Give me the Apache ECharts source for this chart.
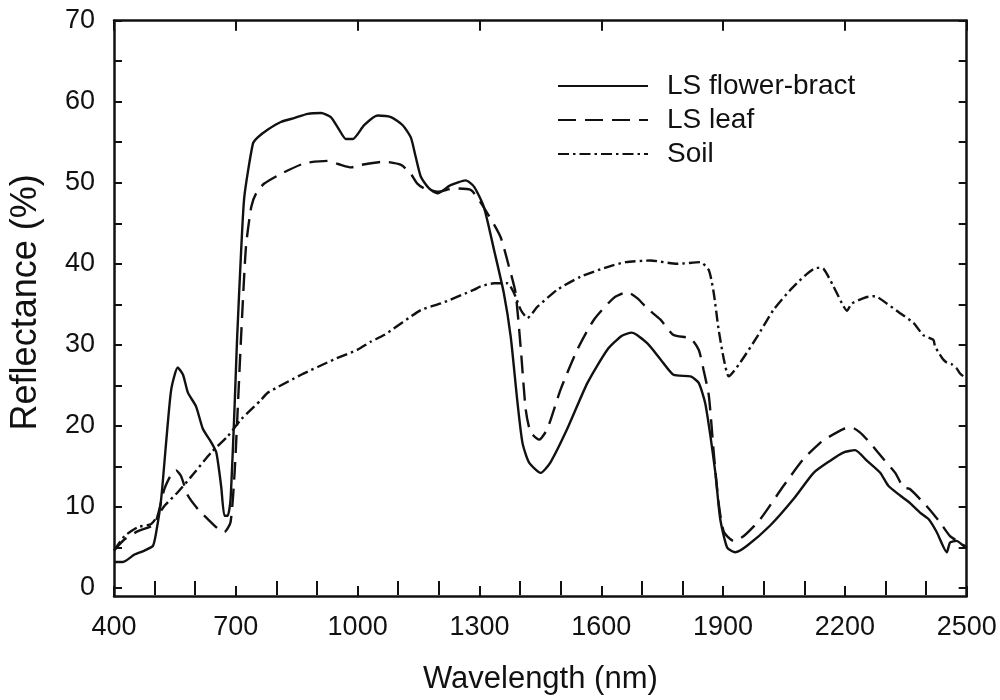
<!DOCTYPE html>
<html>
<head>
<meta charset="utf-8">
<script src="https://cdn.jsdelivr.net/npm/echarts@6/dist/echarts.min.js"></script>
<style>
html,body{margin:0;padding:0;background:#fff;}
#c{width:1000px;height:700px;}
</style>
</head>
<body>
<div id="c"></div>
<script>
// ---- data ----
const seriesNames = ['LS flower-bract', 'LS leaf', 'Soil'];

const flowerNm = [400,422,450,475,496,504,516,529,541,557,570,582,602,619,639,652,664,672,680,687,697,703,713,721,742,754,780,811,845,877,910,934,955,971,988,1016,1049,1082,1111,1131,1143,1156,1176,1197,1229,1266,1287,1311,1336,1360,1377,1393,1406,1422,1451,1475,1516,1566,1615,1650,1675,1713,1746,1778,1820,1840,1856,1869,1881,1893,1910,1930,1959,2016,2074,2123,2164,2196,2225,2254,2287,2307,2336,2360,2385,2406,2426,2451,2459,2475,2492,2500];
const flowerVal = [3.2,3.2,4.1,4.6,5.2,6.9,10.9,18.3,24.5,27.2,26.3,24.1,22.4,19.6,18.0,16.7,12.5,8.9,8.9,10.9,22.4,30.6,41.5,48.3,54.8,55.6,56.6,57.5,58.0,58.5,58.6,58.1,56.5,55.4,55.4,57.1,58.3,58.1,57.1,55.6,53.2,50.7,49.3,48.7,49.7,50.3,49.5,47.0,41.7,36.4,31.0,23.2,17.9,15.5,14.2,15.5,19.6,25.3,29.4,31.1,31.5,30.2,28.2,26.3,26.1,25.3,22.8,18.7,14.2,8.5,5.0,4.4,5.2,7.7,11.0,14.2,15.7,16.7,17.0,15.7,14.2,12.6,11.4,10.5,9.3,8.5,6.9,4.4,5.6,5.8,5.2,4.9];

const leafNm = [400,426,459,500,524,541,553,565,582,607,631,656,672,687,697,705,713,725,738,750,770,811,869,926,959,984,1008,1065,1107,1131,1147,1164,1197,1238,1279,1320,1352,1373,1389,1402,1414,1426,1447,1467,1500,1541,1582,1631,1664,1690,1713,1746,1778,1820,1840,1852,1865,1877,1889,1902,1926,1951,1992,2049,2098,2139,2156,2196,2217,2237,2262,2295,2324,2344,2360,2401,2434,2459,2483,2500];
const leafVal = [4.6,6.0,7.0,7.9,12.2,14.0,14.5,13.8,11.4,9.7,8.5,7.3,6.9,8.1,14.2,22.4,31.0,42.1,47.0,48.7,49.9,51.1,52.4,52.7,52.2,51.9,52.2,52.6,52.2,51.1,49.9,49.3,48.9,49.3,49.1,46.2,43.3,39.6,36.4,29.4,22.0,19.2,18.3,19.6,24.5,29.4,33.1,35.8,36.5,35.7,34.5,33.1,31.2,30.8,29.4,26.9,23.7,16.7,10.5,6.9,5.8,6.4,8.5,12.6,15.9,17.9,18.5,19.6,19.8,19.2,17.9,15.9,14.2,12.4,12.2,10.1,8.1,6.4,5.6,5.0];

const soilNm = [400,426,459,492,524,557,598,639,680,713,762,779,861,942,1000,1033,1065,1156,1205,1287,1303,1336,1369,1385,1402,1418,1443,1492,1549,1615,1660,1721,1787,1844,1865,1877,1889,1902,1914,1942,1984,2024,2074,2131,2147,2172,2193,2205,2217,2254,2274,2303,2336,2369,2393,2418,2422,2434,2442,2451,2463,2475,2483,2492,2500];
const soilVal = [4.6,6.4,7.5,7.9,10.1,11.8,14.2,16.7,18.7,20.8,23.2,24.1,26.3,28.2,29.4,30.4,31.2,34.3,35.1,36.8,37.2,37.6,37.6,36.4,34.3,33.3,34.7,36.8,38.4,39.6,40.2,40.4,40.0,40.2,39.2,36.4,31.9,28.2,26.1,27.8,31.0,34.3,37.2,39.5,39.4,37.2,35.1,34.2,35.1,35.9,36.0,35.1,33.9,32.7,31.2,30.6,29.8,28.8,28.2,27.8,27.6,27.1,26.5,26.1,25.8];

const xLabelTicks = [400,700,1000,1300,1600,1900,2200,2500];
const xMinorTicks = [500,600,800,900,1100,1200,1400,1500,1700,1800,2000,2100,2300,2400];
const yLabelTicks = [0,10,20,30,40,50,60,70];
const yTicks = [0,5,10,15,20,25,30,35,40,45,50,55,60,65,70];

const zip = (xs, ys) => xs.map((x, i) => [x, ys[i]]);

const INK = '#111';
const FONT = 'Liberation Sans, Arial, sans-serif';

function xAx(pos, ticks, len, opts) {
  return Object.assign({
    type: 'value', position: pos, min: 400, max: 2500,
    axisLine: { show: true, onZero: false, lineStyle: { color: INK, width: 2.5 } },
    axisTick: { show: true, inside: true, length: len, customValues: ticks, lineStyle: { color: INK, width: 2 } },
    axisLabel: { show: false },
    splitLine: { show: false }
  }, opts || {});
}
function yAx(pos, opts) {
  return Object.assign({
    type: 'value', position: pos, min: -1, max: 70,
    axisLine: { show: true, onZero: false, lineStyle: { color: INK, width: 2.5 } },
    axisTick: { show: true, inside: true, length: 8, customValues: yTicks, lineStyle: { color: INK, width: 2 } },
    axisLabel: { show: false },
    splitLine: { show: false }
  }, opts || {});
}

const chart = echarts.init(document.getElementById('c'));
chart.setOption({
  animation: false,
  backgroundColor: '#fff',
  textStyle: { fontFamily: FONT },
  grid: { left: 112.7, right: 33.3, top: 20.7, bottom: 103, containLabel: false },
  legend: {
    orient: 'vertical', left: 557, top: 72, padding: 0,
    itemWidth: 90, itemHeight: 20, itemGap: 6,
    data: seriesNames,
    textStyle: { fontSize: 28, lineHeight: 20, color: INK, fontFamily: FONT, padding: [0, 0, 0, 14] },
    itemStyle: { opacity: 0 }
  },
  xAxis: [
    xAx('bottom', xLabelTicks, 10, {
      axisLabel: { show: true, customValues: xLabelTicks, fontSize: 27, color: INK, margin: 18, fontFamily: FONT,
        formatter: v => String(v) },
      name: 'Wavelength (nm)', nameLocation: 'middle', nameGap: 68,
      nameTextStyle: { fontSize: 31, color: INK, fontFamily: FONT }
    }),
    xAx('bottom', xMinorTicks, 7, { axisLine: { show: false } }),
    xAx('top', xLabelTicks, 10),
    xAx('top', xMinorTicks, 7, { axisLine: { show: false } })
  ],
  yAxis: [
    yAx('left', {
      axisLabel: { show: true, customValues: yLabelTicks, fontSize: 27, color: INK, margin: 19, fontFamily: FONT,
        formatter: v => String(v) },
      name: 'Reflectance (%)', nameLocation: 'middle', nameGap: 70, nameRotate: 90,
      nameTextStyle: { fontSize: 36, color: INK, fontFamily: FONT, padding: [0, 0, 0, 12] }
    }),
    yAx('right')
  ],
  series: [
    {
      name: seriesNames[0], type: 'line', xAxisIndex: 0, yAxisIndex: 0,
      data: zip(flowerNm, flowerVal), symbol: 'none', smooth: 0.2,
      lineStyle: { color: INK, width: 2.4, type: 'solid' }, itemStyle: { color: INK }
    },
    {
      name: seriesNames[1], type: 'line', xAxisIndex: 0, yAxisIndex: 0,
      data: zip(leafNm, leafVal), symbol: 'none', smooth: 0.2,
      lineStyle: { color: INK, width: 2.4, type: [18, 9] }, itemStyle: { color: INK }
    },
    {
      name: seriesNames[2], type: 'line', xAxisIndex: 0, yAxisIndex: 0,
      data: zip(soilNm, soilVal), symbol: 'none', smooth: 0.2,
      lineStyle: { color: INK, width: 2.4, type: [11, 4, 2.5, 4] }, itemStyle: { color: INK }
    }
  ]
});
</script>
</body>
</html>
